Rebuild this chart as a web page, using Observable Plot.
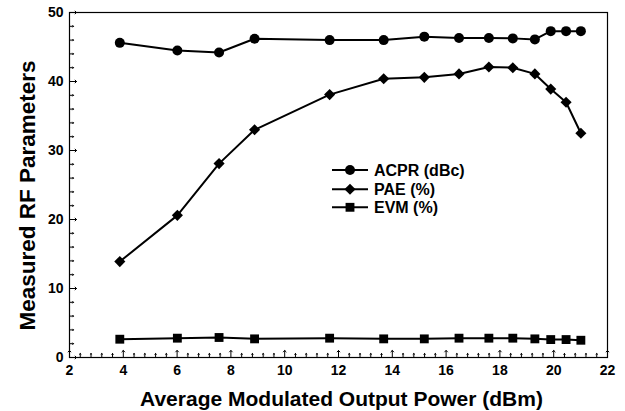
<!DOCTYPE html>
<html><head><meta charset="utf-8">
<script src="https://cdn.jsdelivr.net/npm/d3@7"></script>
<script src="https://cdn.jsdelivr.net/npm/@observablehq/plot@0.6"></script>
<style>
body{margin:0;background:#fff;}
#wrap{position:relative;width:625px;height:411px;background:#fff;}
#wrap svg text{font-family:"Liberation Sans",Arial,sans-serif;font-weight:bold;}
#legend{position:absolute;left:330px;top:160px;}
</style></head><body><div id="wrap"></div>
<script>
// ---- data ----
const power = [3.87, 6.01, 7.56, 8.88, 11.67, 13.68, 15.19, 16.48, 17.59, 18.48, 19.30, 19.89, 20.46, 21.01];
const acpr  = [45.6, 44.5, 44.2, 46.2, 46.0, 46.0, 46.5, 46.3, 46.3, 46.25, 46.1, 47.3, 47.3, 47.3];
const pae   = [13.9, 20.6, 28.1, 33.0, 38.1, 40.4, 40.6, 41.1, 42.1, 42.0, 41.1, 38.9, 37.0, 32.5];
const evm   = [2.65, 2.8, 2.9, 2.7, 2.8, 2.7, 2.7, 2.8, 2.8, 2.8, 2.7, 2.6, 2.6, 2.5];
const seriesNames = ["ACPR (dBc)", "PAE (%)", "EVM (%)"];
const seriesSymbols = ["circle", "diamond2", "square"];
const xTicks = [2, 4, 6, 8, 10, 12, 14, 16, 18, 20, 22];
const yTicks = [0, 10, 20, 30, 40, 50];
const xLabel = "Average Modulated Output Power (dBm)";
const yLabel = "Measured RF Parameters";

const seriesValues = [acpr, pae, evm];
const rows = seriesValues.flatMap((vals, s) =>
  vals.map((v, i) => ({x: power[i], y: v, series: seriesNames[s], symbol: seriesSymbols[s]})));

const xMinor = d3.range(2, 22.001, 0.4).filter(v => !xTicks.some(t => Math.abs(t - v) < 1e-6));
const yMinor = d3.range(0, 50.001, 2).filter(v => !yTicks.some(t => Math.abs(t - v) < 1e-6));

const chart = Plot.plot({
  width: 625,
  height: 411,
  marginLeft: 69,
  marginRight: 18,
  marginTop: 12,
  marginBottom: 54,
  x: {domain: [2, 22]},
  y: {domain: [0, 50]},
  style: {background: "#fff", color: "#000"},
  marks: [
    Plot.frame({stroke: "#000", strokeWidth: 1.2}),
    Plot.axisX({ticks: xTicks, tickSize: 0, tickPadding: 8, fontSize: 14, label: null}),
    Plot.axisY({ticks: yTicks, tickSize: 0, tickPadding: 6, fontSize: 14, label: null}),
    Plot.vector(xMinor, {x: d => d, frameAnchor: "bottom", length: 4, rotate: 0, anchor: "start", stroke: "#000", strokeWidth: 1}),
    Plot.vector(xTicks, {x: d => d, frameAnchor: "bottom", length: 7, rotate: 0, anchor: "start", stroke: "#000", strokeWidth: 1}),
    Plot.vector(yMinor, {y: d => d, frameAnchor: "left", length: 4, rotate: 90, anchor: "start", stroke: "#000", strokeWidth: 1}),
    Plot.vector(yTicks, {y: d => d, frameAnchor: "left", length: 7, rotate: 90, anchor: "start", stroke: "#000", strokeWidth: 1}),
    Plot.line(rows, {x: "x", y: "y", z: "series", stroke: "#000", strokeWidth: 2}),
    Plot.dot(rows, {x: "x", y: "y", symbol: "symbol", r: 5, fill: "#000", stroke: "none"}),
    Plot.text([xLabel], {text: d => d, frameAnchor: "bottom", dy: 42, dx: 3, textAnchor: "middle", lineAnchor: "middle", fontSize: 21, fontWeight: "bold", fill: "#000"}),
    Plot.text([yLabel], {text: d => d, frameAnchor: "left", rotate: -90, dx: -42, dy: 10.5, textAnchor: "middle", lineAnchor: "middle", fontSize: 22.5, fontWeight: "bold", fill: "#000"})
  ]
});
document.getElementById("wrap").appendChild(chart);

// legend
const leg = d3.select("#wrap").append("svg").attr("id", "legend").attr("width", 160).attr("height", 60);
const symGen = {circle: d3.symbolCircle, diamond2: d3.symbolDiamond2, square: d3.symbolSquare};
seriesNames.forEach((name, i) => {
  const g = leg.append("g").attr("transform", `translate(0,${10 + [0, 19.3, 37.3][i]})`);
  g.append("line").attr("x1", 2).attr("x2", 38).attr("stroke", "#000").attr("stroke-width", 2);
  g.append("path").attr("d", d3.symbol(symGen[seriesSymbols[i]], 25 * Math.PI)()).attr("transform", "translate(20,0)").attr("fill", "#000");
  g.append("text").attr("x", 44).attr("dy", "0.36em").attr("font-size", 16)
    .attr("font-family", '"Liberation Sans",Arial,sans-serif').attr("font-weight", "bold").text(name);
});
</script></body></html>
